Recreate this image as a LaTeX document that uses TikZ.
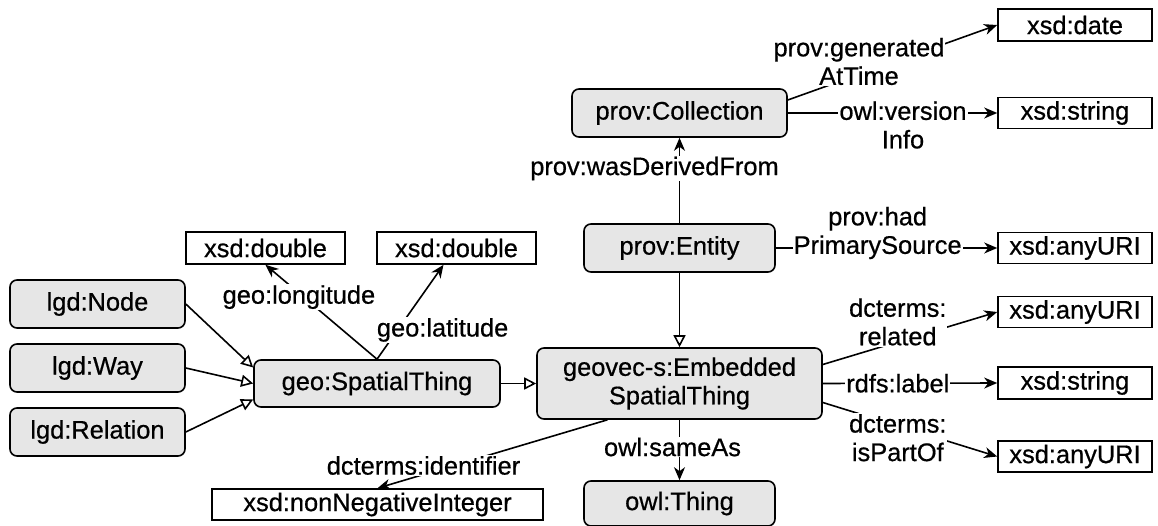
\documentclass[tikz,border=0pt]{standalone}
\usepackage{fontspec}
\setmainfont{Liberation Sans}[FakeBold=0.6]
\usepackage{tikz}
\usetikzlibrary{arrows.meta}

\definecolor{classgray}{RGB}{230,230,230}

\begin{document}
\begin{tikzpicture}[x=1pt, y=-1pt,
  font=\fontsize{25.4}{28.5}\selectfont,
  cls/.style={draw, fill=classgray, rounded corners=7pt, line width=1.6pt, inner sep=0pt, align=center},
  lit/.style={draw, fill=white, line width=1.6pt, inner sep=0pt, minimum width=154pt, minimum height=31pt},
  prop/.style={-{Stealth[length=13pt,width=11pt,inset=4pt]}, line width=1.6pt},
  sub/.style={-{Triangle[open,length=12pt,width=12pt]}, line width=1.6pt},
  lbl/.style={fill=white, inner sep=1pt, align=center}]
\useasboundingbox (0,0) rectangle (1158,526);
% classes
\node[cls, minimum width=175pt, minimum height=48pt] (lnode) at (97.5,304) {lgd:Node};
\node[cls, minimum width=175pt, minimum height=48pt] (lway) at (97.5,368) {lgd:Way};
\node[cls, minimum width=175pt, minimum height=48pt] (lrel) at (97.5,432) {lgd:Relation};
\node[cls, minimum width=246pt, minimum height=47pt] (spatial) at (377,383.5) {geo:SpatialThing};
\node[cls, minimum width=285pt, minimum height=71pt] (geovec) at (679.5,383.5) {geovec-s:Embedded\\SpatialThing};
\node[cls, minimum width=191pt, minimum height=45pt] (thing) at (679.5,503.5) {owl:Thing};
\node[cls, minimum width=191pt, minimum height=48pt] (entity) at (679.5,248) {prov:Entity};
\node[cls, minimum width=215pt, minimum height=48pt] (coll) at (679.5,113) {prov:Collection};
% literals
\node[lit, minimum width=159pt, minimum height=32pt] (dblA) at (265.5,248) {xsd:double};
\node[lit, minimum width=159pt, minimum height=32pt] (dblB) at (456.5,248) {xsd:double};
\node[lit, minimum width=331pt] (nonneg) at (377.5,504.5) {xsd:nonNegativeInteger};
\node[lit, minimum height=32pt] (date) at (1075,25) {xsd:date};
\node[lit] (strA) at (1075,113) {xsd:string};
\node[lit] (uriA) at (1075,248) {xsd:anyURI};
\node[lit] (uriB) at (1075,312) {xsd:anyURI};
\node[lit, minimum height=32pt] (strB) at (1075,383) {xsd:string};
\node[lit] (uriC) at (1075,456.5) {xsd:anyURI};
% subclass edges
\draw[sub] (lnode.east) -- ([yshift=16pt]spatial.west);
\draw[sub] (lway.east) -- (spatial.west);
\draw[sub] (lrel.east) -- ([yshift=-16pt]spatial.west);
\draw[sub] (spatial.east) -- (geovec.west);
\draw[sub] (entity.south) -- (geovec.north);
% properties
\draw[prop] (spatial.north) -- node[lbl, pos=0.7, yshift=-4pt] (lonlbl) {geo:longitude} (dblA.south);
\draw[prop] (spatial.north) -- node[lbl, pos=0.31, xshift=45pt] (latlbl) {geo:latitude} ([xshift=-13pt]dblB.south);
\draw[prop] ([xshift=-72pt]geovec.south) -- node[lbl, pos=0.8, yshift=9pt] (idlbl) {dcterms:identifier} (nonneg.north);
\draw[prop] (geovec.south) -- node[lbl, pos=0.45, xshift=-7pt] (samelbl) {owl:sameAs} (thing.north);
\draw[prop] (entity.north) -- node[lbl, pos=0.64, xshift=-25pt] (derlbl) {prov:wasDerivedFrom} (coll.south);
\draw[prop] (entity.east) -- node[lbl, pos=0.46, yshift=15pt] (srclbl) {prov:had\\PrimarySource} (uriA.west);
\draw[prop] (coll.east) -- node[lbl, pos=0.55, yshift=-12pt] (verlbl) {owl:version\\Info} (strA.west);
\draw[prop] ([yshift=13pt]coll.east) -- node[lbl, pos=0.34, yshift=13pt] (genlbl) {prov:generated\\AtTime} (date.west);
\draw[prop] ([yshift=19pt]geovec.east) -- node[lbl, pos=0.43, yshift=20pt] (rellbl) {dcterms:\\related} (uriB.west);
\draw[prop] (geovec.east) -- node[lbl, pos=0.43] (rdfslbl) {rdfs:label} (strB.west);
\draw[prop] ([yshift=-19pt]geovec.east) -- node[lbl, pos=0.43, yshift=-12pt] (partlbl) {dcterms:\\isPartOf} (uriC.west);
\end{tikzpicture}
\end{document}
